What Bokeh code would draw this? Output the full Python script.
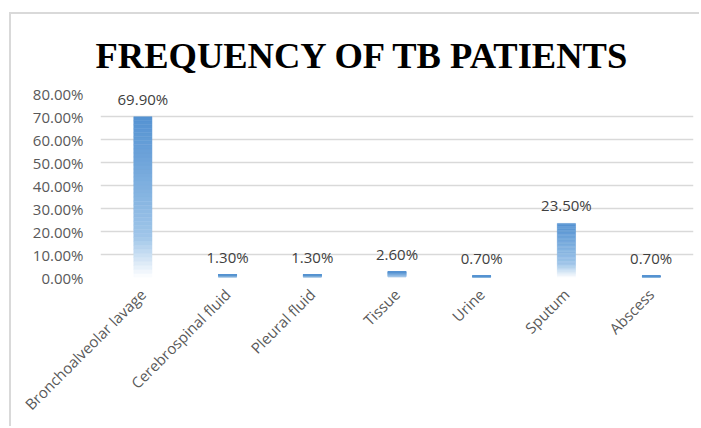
import math
from bokeh.plotting import figure
from bokeh.models import ColumnDataSource, FixedTicker, Range1d, FactorRange, CustomJSTickFormatter
from bokeh.core.properties import value
from bokeh.embed import file_html
from bokeh.resources import INLINE

categories = ["Bronchoalveolar lavage", "Cerebrospinal fluid", "Pleural fluid",
              "Tissue", "Urine", "Sputum", "Abscess"]
values = [69.9, 1.3, 1.3, 2.6, 0.7, 23.5, 0.7]
labels = ["69.90%", "1.30%", "1.30%", "2.60%", "0.70%", "23.50%", "0.70%"]
y_ticks = [0, 10, 20, 30, 40, 50, 60, 70, 80]
title = "FREQUENCY OF TB PATIENTS"

# gradient stops (fraction of bar height -> rgb)
stops = [(0.0, (255, 255, 255)), (0.25, (160, 198, 233)), (1.0, (84, 146, 210))]

def grad(f):
    for (f0, c0), (f1, c1) in zip(stops[:-1], stops[1:]):
        if f0 <= f <= f1:
            t = (f - f0) / (f1 - f0)
            return "#%02x%02x%02x" % tuple(int(round(a + (b - a) * t)) for a, b in zip(c0, c1))
    return "#%02x%02x%02x" % stops[-1][1]

p = figure(width=690, height=414, output_backend="svg", toolbar_location=None,
           x_range=FactorRange(*categories, range_padding=0), y_range=Range1d(0, 80),
           min_border_left=89, min_border_right=8, min_border_top=79, min_border_bottom=151)

N = 40
xs, bots, tops, cols = [], [], [], []
for c, v in zip(categories, values):
    for k in range(N):
        xs.append(c)
        bots.append(v * k / N)
        tops.append(v * (k + 1) / N)
        cols.append(grad((k + 0.5) / N))
src = ColumnDataSource(dict(x=xs, bottom=bots, top=tops, color=cols))
p.vbar(x="x", bottom="bottom", top="top", width=0.215, source=src,
       fill_color="color", line_color="color", line_width=0.5)

lsrc = ColumnDataSource(dict(x=categories, y=values, t=labels))
p.text(x="x", y="y", text="t", source=lsrc, text_align="center", text_baseline="bottom",
       y_offset=-8, text_font_size="15px", text_color="#404040",
       text_font=value("Open Sans"))

p.title.text = title
p.title.text_font = "Liberation Serif"
p.title.text_font_size = "36.5px"
p.title.text_font_style = "bold"
p.title.text_color = "#000000"
p.title.align = "left"
p.title.offset = -5
p.title.standoff = 35

p.yaxis.ticker = FixedTicker(ticks=y_ticks)
p.yaxis.formatter = CustomJSTickFormatter(code="return tick.toFixed(2) + '%'")
p.yaxis.axis_line_color = None
p.yaxis.major_tick_line_color = None
p.yaxis.minor_tick_line_color = None
p.yaxis.major_label_text_font = "Open Sans"
p.yaxis.major_label_text_font_size = "15px"
p.yaxis.major_label_text_color = "#595959"
p.yaxis.major_label_standoff = 11

p.xaxis.axis_line_color = None
p.xaxis.major_tick_line_color = None
p.xaxis.major_label_orientation = math.pi / 4
p.xaxis.major_label_text_font = "Open Sans"
p.xaxis.major_label_text_font_size = "15px"
p.xaxis.major_label_text_color = "#595959"
p.xaxis.major_label_standoff = 8

p.xgrid.grid_line_color = None
p.ygrid.grid_line_color = "#d9d9d9"
p.ygrid.grid_line_width = 1.5
p.outline_line_color = None
p.styles = {"border-top": "2px solid #d9d9d9", "border-left": "2px solid #d9d9d9",
            "margin-top": "12px", "margin-left": "9px"}

open("out.html", "w").write(file_html(p, INLINE))
